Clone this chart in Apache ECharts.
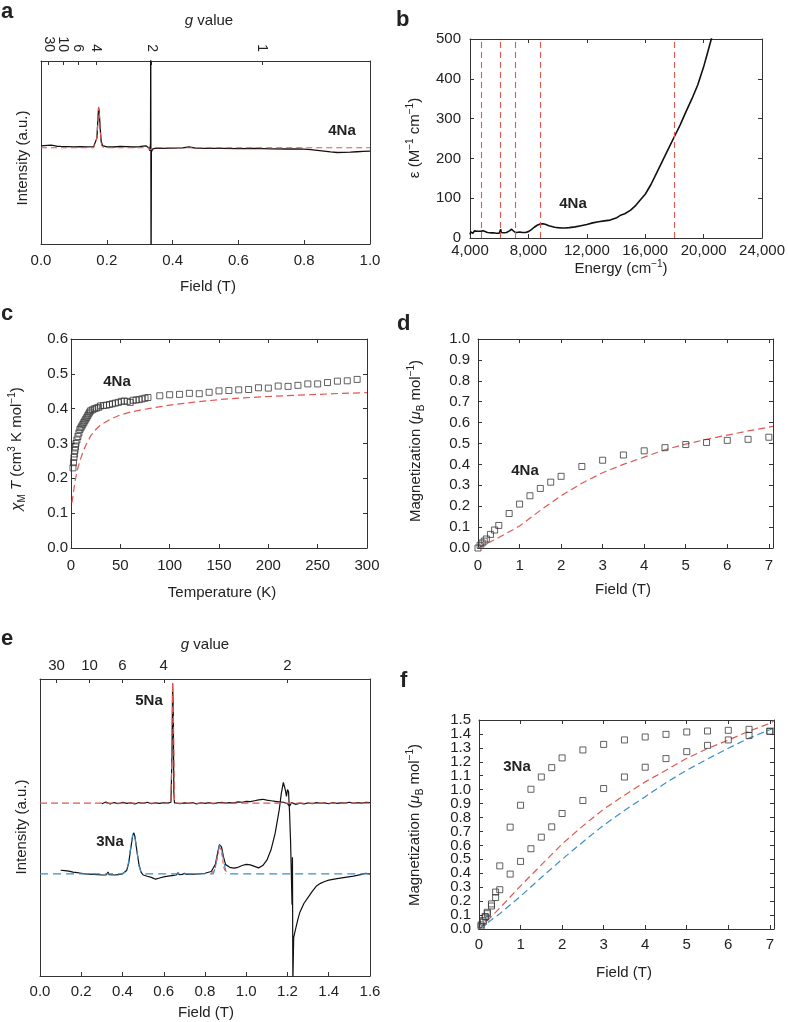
<!DOCTYPE html>
<html><head><meta charset="utf-8">
<script src="https://cdn.jsdelivr.net/npm/echarts@6/dist/echarts.min.js"></script>
<style>html,body{margin:0;padding:0;background:#fff}#c{width:788px;height:1022px}</style>
</head><body><div id="c"></div><script>
// ---------- Panel a: EPR 4Na ----------
const aField = [0,0.01,0.02,0.03,0.04,0.05,0.06,0.08,0.10,0.12,0.14,0.16,0.165,0.170,0.173,0.175,0.177,0.180,0.183,0.187,0.19,0.20,0.22,0.24,0.26,0.28,0.30,0.31,0.32,0.325,0.328,0.331,0.333,0.3335,0.3345,0.3355,0.338,0.34,0.35,0.37,0.40,0.43,0.45,0.47,0.50,0.55,0.60,0.65,0.70,0.75,0.78,0.80,0.82,0.84,0.86,0.88,0.90,0.92,0.94,0.96,0.98,1.0];
const aSignal = [53.6,53.8,53.9,54.0,53.7,53.4,53.3,53.2,53.1,53.2,53.1,53.2,53.4,58,68,74.5,72,63,56,53.8,53.3,53.1,53.0,53.3,53.2,53.0,53.2,53.5,53.6,53.4,52.5,51.0,55,120,-20,50.5,51.2,52.0,52.4,52.2,52.4,52.5,53.0,52.4,52.3,52.2,52.1,52.2,52.0,51.9,52.0,51.8,51.6,51.2,50.8,50.3,50.0,50.1,50.2,50.4,50.6,50.8];
const aFitField = [0,0.16,0.166,0.170,0.173,0.175,0.177,0.180,0.184,0.19,0.325,0.331,0.334,0.337,0.345,1.0];
const aFit = [52.6,52.6,53.2,58,68,75,72,62,54,52.6,52.6,51.5,50.5,52.0,52.6,52.6];
const gFieldA = [0.0224,0.0672,0.112,0.168,0.336,0.672];
const gLabelA = ['30','10','6','4','2','1'];

// ---------- Panel b: absorption 4Na ----------
const bEnergy = [4000,4050,4100,4150,4200,4300,4400,4500,4600,4700,4800,4900,5000,5200,5400,5500,5600,5700,5800,5900,6000,6080,6100,6140,6300,6500,6700,6850,6950,7050,7200,7400,7600,7700,7800,8000,8200,8400,8600,8800,9000,9200,9400,9600,9800,10000,10300,10500,10800,11200,11600,12000,12400,12800,13200,13600,14000,14300,14600,15000,15300,15600,16000,16400,16800,17200,17600,18000,18400,18800,19200,19600,20000,20300,20600];
const bEpsilon = [9,15,11,17,12,18,14,17,15,17,18,18,16,14,13,12,13,11,12,11,12,13,22,14,13,14,18,22,20,15,14,15,14,16,14,16,21,27,32,35,36,34,31,29,27,26,25,25,26,28,31,34,38,41,43,45,50,57,61,70,80,93,110,135,165,195,225,255,285,318,350,385,430,470,510];
const bBands = [4800,6100,7100,8800,18000];

// ---------- Panel c: chiT 4Na ----------
const cTemp = [2,2.5,3,3.5,4,4.5,5,6,7,8,9,10,11,12,13,14,15,16,17,18,19,20,22,24,26,28,30,33,36,39,42,45,48,51,54,57,60,63,66,69,72,75,78,90,100,110,120,130,140,150,160,170,180,190,200,210,220,230,240,250,260,270,280,290];
const cChiT = [0.23,0.245,0.26,0.27,0.28,0.29,0.30,0.31,0.32,0.33,0.34,0.345,0.35,0.355,0.36,0.365,0.37,0.375,0.38,0.385,0.39,0.394,0.397,0.400,0.402,0.404,0.408,0.409,0.410,0.412,0.414,0.416,0.418,0.421,0.422,0.421,0.418,0.424,0.425,0.426,0.428,0.430,0.432,0.437,0.440,0.441,0.444,0.443,0.447,0.451,0.452,0.454,0.455,0.46,0.459,0.465,0.464,0.467,0.471,0.471,0.475,0.479,0.480,0.484];
const cFitTemp = [1,2,3,4,5,6,7,8,10,12,15,20,25,30,40,50,60,70,80,100,125,150,175,200,225,250,275,300];
const cFitChiT = [0.13,0.15,0.17,0.19,0.205,0.218,0.23,0.24,0.258,0.275,0.295,0.322,0.34,0.353,0.37,0.382,0.39,0.396,0.401,0.41,0.419,0.426,0.431,0.435,0.438,0.441,0.444,0.446];

// ---------- Panel d: magnetization 4Na ----------
const dField = [0,0.05,0.1,0.15,0.2,0.3,0.4,0.5,0.75,1,1.25,1.5,1.75,2,2.5,3,3.5,4,4.5,5,5.5,6,6.5,7];
const dMag = [0,0.013,0.024,0.033,0.043,0.065,0.086,0.108,0.165,0.21,0.25,0.285,0.315,0.343,0.39,0.42,0.445,0.465,0.48,0.495,0.505,0.515,0.52,0.53];
const dFitField = [0,0.5,1,1.5,2,2.5,3,3.5,4,4.5,5,5.5,6,6.5,7,7.1];
const dFitMag = [0,0.05,0.105,0.18,0.25,0.31,0.36,0.40,0.435,0.47,0.497,0.52,0.54,0.56,0.578,0.582];

// ---------- Panel e: EPR 5Na / 3Na ----------
const e5Field = [0.30,0.32,0.34,0.36,0.38,0.40,0.42,0.44,0.46,0.48,0.50,0.52,0.54,0.56,0.58,0.60,0.62,0.635,0.640,0.643,0.646,0.649,0.652,0.66,0.68,0.70,0.72,0.74,0.76,0.78,0.80,0.82,0.84,0.86,0.88,0.90,0.92,0.94,0.96,0.98,1.00,1.02,1.04,1.06,1.08,1.10,1.12,1.14,1.16,1.18,1.20,1.21,1.22,1.24,1.26,1.28,1.30,1.32,1.34,1.36,1.38,1.40,1.42,1.44,1.46,1.48,1.50,1.52,1.54,1.56,1.58,1.60];
const e5Signal = [58.0,58.6,57.9,58.4,58.0,58.5,58.1,58.3,57.9,58.4,58.1,58.5,58.0,58.3,58.1,58.4,58.2,58.5,75,98.5,90,62,58.3,58.5,58.0,58.3,58.1,58.4,57.9,58.3,58.1,58.4,58.0,58.3,58.5,58.2,58.4,58.3,58.6,58.5,58.8,58.7,59.0,59.3,59.5,59.2,59.0,58.8,58.6,58.5,58.0,57.2,58.4,57.8,58.2,57.9,58.3,58.0,58.4,58.1,58.3,58.0,58.4,58.1,58.3,58.2,58.5,58.1,58.4,58.2,58.5,58.4];
const e5FitField = [0,0.634,0.639,0.643,0.647,0.652,1.6];
const e5Fit = [58.2,58.2,72,99,88,58.2,58.2];
const e3Field = [0.10,0.12,0.14,0.16,0.18,0.20,0.22,0.24,0.26,0.28,0.30,0.32,0.33,0.335,0.36,0.38,0.40,0.42,0.43,0.44,0.45,0.455,0.46,0.47,0.48,0.49,0.50,0.52,0.54,0.56,0.58,0.60,0.62,0.64,0.66,0.67,0.675,0.69,0.70,0.71,0.74,0.77,0.80,0.83,0.85,0.86,0.87,0.875,0.88,0.89,0.90,0.92,0.94,0.96,0.98,1.00,1.02,1.04,1.06,1.08,1.10,1.12,1.14,1.16,1.17,1.18,1.185,1.19,1.195,1.20,1.205,1.21,1.215,1.22,1.222,1.224,1.226,1.228,1.23,1.24,1.25,1.26,1.28,1.30,1.32,1.34,1.36,1.38,1.40,1.44,1.48,1.52,1.56,1.58,1.60];
const e3Signal = [35.6,35.5,35.3,35.0,34.8,34.6,34.4,34.3,34.2,34.1,34.0,34.0,35.0,34.1,34.0,34.1,34.4,35.5,38,43,47.5,48.2,47,42,37.5,35,34.0,33.6,33.2,32.6,33.0,33.4,33.6,33.8,34.0,34.8,34.1,34.2,34.6,34.2,34.3,34.4,34.6,35.2,37.5,41,44.2,44.6,43.5,40,37.5,36.6,36.3,36.6,37.2,37.6,37.4,36.9,36.4,37.2,39.0,42.5,48,56,61.5,65.2,65.0,62.5,60.5,62.8,62.0,55,45,30,24,40,-2,-2,13,16,19,21.5,24.5,26.5,28.5,30.3,31.2,31.8,32.3,32.8,33.2,33.6,34.2,34.6,34.3];
const e3FitField = [0,0.40,0.42,0.43,0.44,0.45,0.455,0.46,0.47,0.48,0.49,0.50,0.84,0.85,0.86,0.87,0.875,0.88,0.89,0.90,0.91,1.6];
const e3Fit = [34.4,34.4,35.5,38.5,43.5,47.8,48.2,47,42,37,35,34.4,34.4,36.5,40.5,44,44.5,43,39,35.5,34.4,34.4];
const e3RedField = [0.83,0.85,0.86,0.87,0.88,0.89,0.90];
const e3Red = [34.4,36.5,40,43.5,42,37,34.4];
const gFieldE = [0.08,0.24,0.4,0.6,1.2];
const gLabelE = ['30','10','6','4','2'];

// ---------- Panel f: magnetization 3Na ----------
const fField = [0.05,0.1,0.15,0.2,0.3,0.4,0.5,0.75,1,1.25,1.5,1.75,2,2.5,3,3.5,4,4.5,5,5.5,6,6.5,7];
const fMagUpper = [0.03,0.06,0.09,0.12,0.18,0.265,0.453,0.731,0.888,1.003,1.091,1.158,1.228,1.285,1.325,1.357,1.378,1.397,1.414,1.421,1.426,1.433,1.419];
const fMagLower = [0.02,0.05,0.085,0.11,0.165,0.226,0.282,0.394,0.485,0.576,0.659,0.733,0.829,0.922,1.008,1.091,1.161,1.223,1.273,1.318,1.357,1.388,1.419];
const fFitField = [0,0.5,1,1.5,2,2.5,3,3.5,4,4.5,5,5.5,6,6.5,7,7.1];
const fFitRed = [0,0.15,0.31,0.46,0.61,0.74,0.86,0.96,1.056,1.14,1.225,1.295,1.356,1.42,1.476,1.495];
const fFitBlue = [0,0.11,0.235,0.37,0.5,0.625,0.745,0.85,0.95,1.05,1.14,1.22,1.297,1.37,1.43,1.445];
const fYTicksEven = [0,0.2,0.4,0.6,0.8,1.0,1.2,1.4];
const fYTicksOdd = [0.1,0.3,0.5,0.7,0.9,1.1,1.3,1.5];

// ---------- helpers ----------
const FF = '"Liberation Sans", Arial, Helvetica, sans-serif';
const AX = '#333';
const TXT = '#222';
const RED = '#e2574f';
const BLUE = '#3b8fc6';
const zip = (xs, ys) => xs.map((x, i) => [x, ys[i]]);
const nearest = (arr, v) => { let b = 0; arr.forEach((a, i) => { if (Math.abs(a - v) < Math.abs(arr[b] - v)) b = i; }); return b; };

function axis(grid, position, min, max, interval, o) {
  o = o || {};
  return {
    type: 'value', gridIndex: grid, position, min, max, interval,
    axisLine: {show: o.line !== false, onZero: false, lineStyle: {color: AX, width: 1}},
    axisTick: Object.assign({show: o.ticks !== false, inside: true, length: 4, lineStyle: {color: AX, width: 1}}, o.tick || {}),
    axisLabel: o.label ? Object.assign({show: true, color: TXT, fontSize: 15, fontFamily: FF, hideOverlap: false, showMinLabel: true, showMaxLabel: true}, o.label) : {show: false},
    splitLine: {show: false}
  };
}
const f1 = v => v.toFixed(1);
const intOnly = v => (Math.abs(v - Math.round(v)) < 1e-6 ? String(Math.round(v)) : '');
const comma = v => v.toLocaleString('en-US');

const grids = [
  {left: 41, top: 61, width: 329, height: 183},
  {left: 470, top: 39, width: 296, height: 199},
  {left: 71, top: 339, width: 296, height: 209},
  {left: 478, top: 339, width: 295, height: 209},
  {left: 40, top: 679, width: 330, height: 297},
  {left: 479, top: 720, width: 295, height: 209}
];

const xAxis = [
  axis(0, 'bottom', 0, 1, 0.2, {label: {margin: 9, formatter: f1}}),
  axis(0, 'top', 0, 1, 0.2, {tick: {customValues: gFieldA}, label: {customValues: gFieldA, rotate: 90, margin: 9, fontSize: 14, formatter: v => gLabelA[nearest(gFieldA, v)]}}),
  axis(1, 'bottom', 4000, 24000, 4000, {label: {margin: 5, formatter: comma}}),
  axis(1, 'top', 4000, 24000, 4000),
  axis(2, 'bottom', 0, 300, 50, {label: {margin: 10}}),
  axis(2, 'top', 0, 300, 50),
  axis(3, 'bottom', 0, 7.1, 1, {label: {margin: 10, formatter: intOnly}}),
  axis(3, 'top', 0, 7.1, 1),
  axis(4, 'bottom', 0, 1.6, 0.2, {label: {margin: 8, formatter: f1}}),
  axis(4, 'top', 0, 1.6, 0.2, {tick: {customValues: gFieldE}, label: {customValues: gFieldE, margin: 6, formatter: v => gLabelE[nearest(gFieldE, v)]}}),
  axis(5, 'bottom', 0, 7.1, 1, {label: {margin: 8, formatter: intOnly}}),
  axis(5, 'top', 0, 7.1, 1)
];
const yAxis = [
  axis(0, 'left', 0, 100, 50, {ticks: false}),
  axis(0, 'right', 0, 100, 50, {ticks: false}),
  axis(1, 'left', 0, 500, 100, {label: {margin: 9}}),
  axis(1, 'right', 0, 500, 100),
  axis(2, 'left', 0, 0.6, 0.1, {label: {margin: 3, formatter: f1}}),
  axis(2, 'right', 0, 0.6, 0.1),
  axis(3, 'left', 0, 1.0, 0.1, {label: {margin: 8, formatter: f1}}),
  axis(3, 'right', 0, 1.0, 0.1),
  axis(4, 'left', 0, 100, 50, {ticks: false}),
  axis(4, 'right', 0, 100, 50, {ticks: false}),
  axis(5, 'left', 0, 1.5, 0.1, {label: {margin: 8, formatter: f1, customValues: fYTicksEven}}),
  axis(5, 'right', 0, 1.5, 0.1),
  axis(5, 'left', 0, 1.5, 0.1, {line: false, ticks: false, label: {margin: 8, formatter: f1, customValues: fYTicksOdd}})
];

const line = (xi, xs, ys, color, width, dash, z) => ({
  type: 'line', xAxisIndex: xi, yAxisIndex: xi, data: zip(xs, ys), showSymbol: false, symbol: 'none',
  lineStyle: {color, width, type: dash || 'solid'}, z: z || 2, silent: true, animation: false
});
const scat = (xi, xs, ys) => ({
  type: 'scatter', xAxisIndex: xi, yAxisIndex: xi, data: zip(xs, ys), symbol: 'rect', symbolSize: 6,
  itemStyle: {color: 'rgba(255,255,255,0)', borderColor: '#3a3a3a', borderWidth: 1}, z: 3, silent: true, animation: false
});

const bLine = line(2, bEnergy, bEpsilon, '#111', 1.6);
bLine.markLine = {
  silent: true, symbol: ['none', 'none'], animation: false, label: {show: false},
  lineStyle: {color: RED, type: [6, 4], width: 1.1},
  data: bBands.map(v => ({xAxis: v}))
};

const series = [
  line(0, aField, aSignal, '#111', 1.3, null, 2),
  line(0, aFitField, aFit, RED, 1.1, [6, 4], 4),
  bLine,
  scat(4, cTemp, cChiT),
  line(4, cFitTemp, cFitChiT, RED, 1.2, [7, 4], 2),
  scat(6, dField, dMag),
  line(6, dFitField, dFitMag, RED, 1.2, [7, 4], 2),
  line(8, e5Field, e5Signal, '#111', 1.2, null, 2),
  line(8, e3Field, e3Signal, '#111', 1.2, null, 2),
  line(8, e5FitField, e5Fit, RED, 1.1, [7, 4], 4),
  line(8, e3FitField, e3Fit, BLUE, 1.2, [8, 5], 4),
  line(8, e3RedField, e3Red, RED, 1.1, [4, 3], 5),
  scat(10, fField, fMagUpper),
  scat(10, fField, fMagLower),
  line(10, fFitField, fFitRed, RED, 1.2, [7, 4], 2),
  line(10, fFitField, fFitBlue, BLUE, 1.2, [7, 4], 2)
];

const rich = {
  sup: {fontSize: 10, fontFamily: FF, fill: TXT, verticalAlign: 'top', lineHeight: 11},
  sub: {fontSize: 10, fontFamily: FF, fill: TXT, verticalAlign: 'bottom', lineHeight: 11},
  i: {fontSize: 15, fontFamily: FF, fill: TXT, fontStyle: 'italic', lineHeight: 20}
};
const T = (text, x, y, o) => Object.assign({
  type: 'text', x, y, rotation: (o && o.rot) || 0, silent: true,
  style: Object.assign({text, fill: TXT, fontSize: 15, fontFamily: FF, align: 'center', verticalAlign: 'middle', lineHeight: 20, rich}, (o && o.style) || {})
});
const ROT = Math.PI / 2;
const bold = {style: {fontWeight: 'bold', fontSize: 15}};
const letter = (t, x, y) => T(t, x, y, {style: {fontWeight: 'bold', fontSize: 22, align: 'left', verticalAlign: 'bottom', lineHeight: 22}});

const graphic = [
  letter('a', 1, 23), letter('b', 396, 31), letter('c', 1, 325), letter('d', 397, 335), letter('e', 1, 650), letter('f', 400, 692),
  T('{i|g} value', 209, 21), T('{i|g} value', 205, 645),
  T('Field (T)', 208, 287),
  T('Energy (cm{sup|−1})', 621, 269),
  T('Temperature (K)', 222, 593),
  T('Field (T)', 623, 590),
  T('Field (T)', 206, 1013),
  T('Field (T)', 624, 973),
  T('Intensity (a.u.)', 23, 158, {rot: ROT}),
  T('ε (M{sup|−1} cm{sup|−1})', 415, 138, {rot: ROT}),
  T('{i|χ}{sub|M} {i|T} (cm{sup|3} K mol{sup|−1})', 17, 449, {rot: ROT}),
  T('Magnetization ({i|μ}{sub|B} mol{sup|−1})', 416, 441, {rot: ROT}),
  T('Intensity (a.u.)', 22, 827, {rot: ROT}),
  T('Magnetization ({i|μ}{sub|B} mol{sup|−1})', 415, 825, {rot: ROT}),
  T('4Na', 342, 131, bold), T('4Na', 573, 204, bold), T('4Na', 117, 382, bold), T('4Na', 525, 471, bold),
  T('5Na', 149, 701, bold), T('3Na', 110, 842, bold), T('3Na', 517, 767, bold)
];

const chart = echarts.init(document.getElementById('c'), null, {renderer: 'canvas'});
chart.setOption({
  backgroundColor: '#fff', animation: false,
  grid: grids, xAxis, yAxis, series, graphic
});
</script></body></html>
